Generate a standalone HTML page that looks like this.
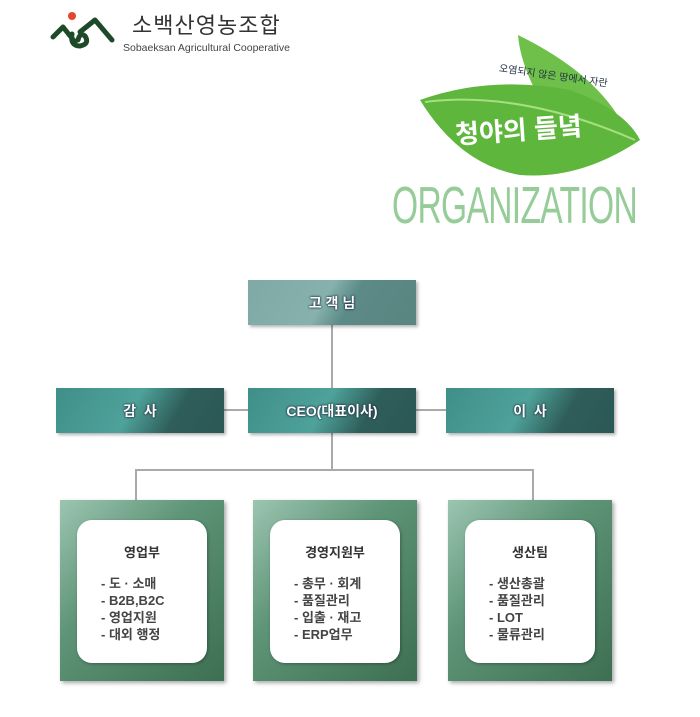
<!DOCTYPE html>
<html><head><meta charset="utf-8"><style>
body{margin:0;width:700px;height:717px;background:#fff;position:relative;overflow:hidden;font-family:"Liberation Sans","Noto Sans CJK KR",sans-serif}
.a{position:absolute}
.n{position:absolute;height:45px;color:#fff;font-weight:bold;font-size:14px;display:flex;align-items:center;justify-content:center;text-shadow:0 0 2px #234,0 0 2px #234;box-shadow:2px 2px 3px rgba(0,0,0,.3)}
.t{background:linear-gradient(120deg,#7fa9a6 0%,#86b1ad 45%,#5c8a86 60%,#5a8581 100%)}
.g{background:linear-gradient(120deg,#3f8f88 0%,#4ea29a 45%,#2f5e5a 70%,#2b5754 100%)}
.l{position:absolute;background:#aaa}
.b{position:absolute;width:164px;height:181px;top:500px;background:linear-gradient(135deg,#9cc5b1 0%,#5e9477 40%,#3d6f51 100%);box-shadow:2px 2px 4px rgba(0,0,0,.35)}
.w{position:absolute;left:17px;top:20px;width:130px;height:143px;background:#fff;border-radius:15px;box-shadow:1px 1px 3px rgba(0,0,0,.3);font-size:13px;font-weight:bold;color:#444}
.w h4{margin:22px 0 14px;text-align:center;font-size:13px;color:#333}
.w p{margin:0 0 0 24px;line-height:17px}
</style></head><body>
<svg class="a" style="left:50px;top:12px" width="70" height="40">
<circle cx="22" cy="4" r="4" fill="#e5452c"/>
<path d="M3 25 L13 15 L25 30 M22 22 Q20 34 30 34 Q40 32 35 24 Q30 20 28 28 M30 20 L45 8 L62 28" stroke="#1f4a2a" stroke-width="5" fill="none" stroke-linecap="round" stroke-linejoin="round"/>
</svg>
<div class="a" style="left:132px;top:8px;font-size:22px;color:#333;letter-spacing:1px">소백산영농조합</div>
<div class="a" style="left:123px;top:42px;font-size:10.5px;color:#444">Sobaeksan Agricultural Cooperative</div>
<svg class="a" style="left:410px;top:30px" width="240" height="150">
<path d="M108 5 Q200 50 222 115 Q150 100 125 60 Q110 30 108 5Z" fill="#6ec04a"/>
<path d="M10 70 Q80 45 160 60 Q215 80 230 110 Q170 150 110 145 Q50 135 10 70Z" fill="#5fb63c"/>
<path d="M15 72 Q110 60 225 110" stroke="#a6df80" stroke-width="2" fill="none"/>
<text x="88" y="50" font-size="10" fill="#234" transform="rotate(8 150 50)">오염되지 않은 땅에서 자란</text>
<text x="45" y="110" font-size="26" fill="#fff" font-weight="bold" transform="rotate(-4 100 100)">청야의 들녘</text>
</svg>
<div class="a" style="left:392px;top:176px;font-size:52px;color:#96cc98;letter-spacing:-1px;transform:scaleX(0.645);transform-origin:left;white-space:nowrap">ORGANIZATION</div>
<div class="l" style="left:331px;top:325px;width:2px;height:146px"></div>
<div class="l" style="left:224px;top:409px;width:222px;height:2px"></div>
<div class="l" style="left:135px;top:469px;width:399px;height:2px"></div>
<div class="l" style="left:135px;top:469px;width:2px;height:31px"></div>
<div class="l" style="left:532px;top:469px;width:2px;height:31px"></div>
<div class="n t" style="left:248px;top:280px;width:168px">고 객 님</div>
<div class="n g" style="left:56px;top:388px;width:168px">감&nbsp;&nbsp;사</div>
<div class="n g" style="left:248px;top:388px;width:168px">CEO(대표이사)</div>
<div class="n g" style="left:446px;top:388px;width:168px">이&nbsp;&nbsp;사</div>
<div class="b" style="left:60px"><div class="w"><h4>영업부</h4><p>- 도 · 소매<br>- B2B,B2C<br>- 영업지원<br>- 대외 행정</p></div></div>
<div class="b" style="left:253px"><div class="w"><h4>경영지원부</h4><p>- 총무 · 회계<br>- 품질관리<br>- 입출 · 재고<br>- ERP업무</p></div></div>
<div class="b" style="left:448px"><div class="w"><h4>생산팀</h4><p>- 생산총괄<br>- 품질관리<br>- LOT<br>- 물류관리</p></div></div>
</body></html>
